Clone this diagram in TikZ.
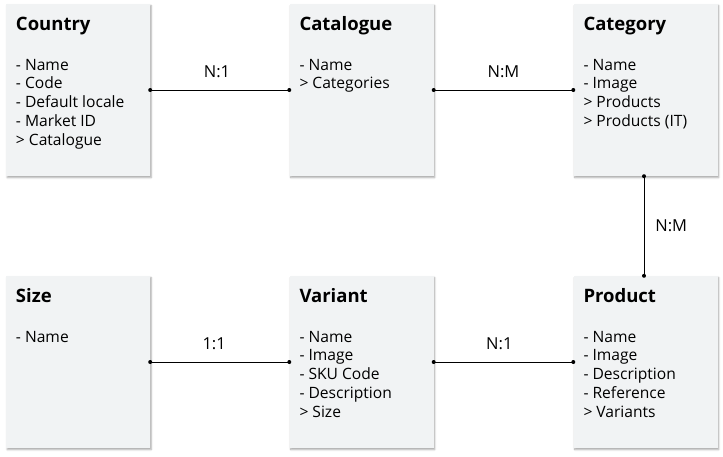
\documentclass[tikz,border=0pt]{standalone}
\usepackage{fontspec}
\setmainfont{Open Sans}
\usetikzlibrary{shadows.blur}
\definecolor{boxfill}{HTML}{F1F3F4}
\tikzset{
  entity/.style={draw=none, fill=boxfill, minimum width=144pt, minimum height=172pt,
    inner sep=0pt, blur shadow={shadow xshift=1.2pt, shadow yshift=-1.6pt, shadow blur steps=5, shadow blur radius=1.8pt, shadow opacity=35}},
  etitle/.style={anchor=base west, inner sep=0pt, font=\fontsize{18.5}{22}\selectfont\bfseries},
  eattr/.style={anchor=north west, inner sep=0pt, align=left, font=\fontsize{15.6}{18.8}\selectfont},
  rel/.style={draw=black, line width=0.8pt},
  endpt/.style={circle, fill=black, inner sep=0pt, minimum size=4pt},
  rlabel/.style={inner sep=0pt, font=\fontsize{16.5}{20}\selectfont},
}
\begin{document}
\begin{tikzpicture}[x=1pt,y=-1pt]
\useasboundingbox (0,0) rectangle (723,456);
% boxes
\node[entity] (country) at (78,90) {};
\node[entity] (catalogue) at (361.5,90) {};
\node[entity] (category) at (645.5,90) {};
\node[entity] (size) at (78,362) {};
\node[entity] (variant) at (361.5,362) {};
\node[entity] (product) at (645.5,362) {};
% titles and attributes
\foreach \b/\t/\a in {
  country/Country/{- Name\\- Code\\- Default locale\\- Market ID\\> Catalogue},
  catalogue/Catalogue/{- Name\\> Categories},
  category/Category/{- Name\\- Image\\> Products\\> Products (IT)},
  size/Size/{- Name},
  variant/Variant/{- Name\\- Image\\- SKU Code\\- Description\\> Size},
  product/Product/{- Name\\- Image\\- Description\\- Reference\\> Variants}}{
  \node[etitle] (\b-title) at ([xshift=10pt,yshift=-27pt]\b.north west) {\t};
  \node[eattr] (\b-attr) at ([xshift=10pt,yshift=-55pt]\b.north west) {\a};
}
% relations
\draw[rel] (country.east) -- node[rlabel, above=12pt, pos=0.48] (l1) {N:1} (catalogue.west);
\draw[rel] (catalogue.east) -- node[rlabel, above=12pt, pos=0.5] (l2) {N:M} (category.west);
\draw[rel] (category.south -| 644,0) -- node[rlabel, right=11pt] (l3) {N:M} (product.north -| 644,0);
\draw[rel] (size.east) -- node[rlabel, above=12pt, pos=0.46] (l4) {1:1} (variant.west);
\draw[rel] (variant.east) -- node[rlabel, above=12pt, pos=0.47] (l5) {N:1} (product.west);
% endpoints
\foreach \p in {country.east, catalogue.west, catalogue.east, category.west, size.east, variant.west, variant.east, product.west}
  \node[endpt] at (\p) {};
\node[endpt] at (category.south -| 644,0) {};
\node[endpt] at (product.north -| 644,0) {};
\end{tikzpicture}
\end{document}
